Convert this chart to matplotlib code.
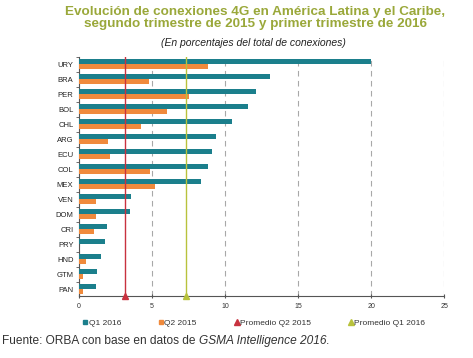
import matplotlib.pyplot as plt
import numpy as np
from matplotlib.lines import Line2D
from matplotlib.offsetbox import TextArea, HPacker, AnchoredOffsetbox

plt.rcParams['font.family'] = ['Liberation Sans', 'DejaVu Sans']

countries = ["URY", "BRA", "PER", "BOL", "CHL", "ARG", "ECU", "COL",
             "MEX", "VEN", "DOM", "CRI", "PRY", "HND", "GTM", "PAN"]
q1_2016 = [20.0, 13.1, 12.1, 11.6, 10.5, 9.4, 9.1, 8.85,
           8.35, 3.55, 3.5, 1.95, 1.75, 1.5, 1.25, 1.15]
q2_2015 = [8.8, 4.8, 7.55, 6.05, 4.25, 2.0, 2.15, 4.85,
           5.2, 1.15, 1.15, 1.05, 0.0, 0.5, 0.25, 0.3]
avg_q2_2015 = 3.15
avg_q1_2016 = 7.35

teal = "#1b7f8c"
orange = "#f08a3c"
red = "#c8323f"
green = "#b8c23c"
title_color = "#9aa83a"

fig = plt.figure(figsize=(4.73, 3.58), dpi=100)
ax = fig.add_axes([0.167, 0.173, 0.772, 0.668])

n = len(countries)
y = np.arange(n)[::-1]
h = 0.33
ax.barh(y + h / 2, q1_2016, height=h, color=teal, zorder=3)
ax.barh(y - h / 2, q2_2015, height=h, color=orange, zorder=3)

ymin, ymax = -0.45, n - 0.5
ax.set_ylim(ymin, ymax)
ax.set_xlim(0, 25)

# average lines with triangle markers at the axis
ax.axvline(avg_q2_2015, color=red, lw=1.0, zorder=4)
ax.axvline(avg_q1_2016, color=green, lw=1.0, zorder=4)
ax.plot([avg_q2_2015], [ymin], marker="^", color=red, ms=4, clip_on=False, zorder=5)
ax.plot([avg_q1_2016], [ymin], marker="^", color=green, ms=4, clip_on=False, zorder=5)

ax.set_xticks([0, 5, 10, 15, 20, 25])
ax.xaxis.grid(True, linestyle=(0, (5, 4)), color="#a8a8a8", lw=0.8, zorder=0)
ax.set_yticks(y)
ax.set_yticklabels(countries)
ax.set_yticks(np.arange(n) + 0.5, minor=True)
ax.tick_params(axis="y", which="major", length=0, labelsize=5.5, pad=4, colors="#222222")
ax.tick_params(axis="y", which="minor", length=2, direction="out", color="#555555")
ax.tick_params(axis="x", length=3, direction="inout", labelsize=5, colors="#333333", color="#555555")

for s in ["top", "right"]:
    ax.spines[s].set_visible(False)
ax.spines["left"].set_color("#555555")
ax.spines["bottom"].set_color("#555555")
ax.spines["left"].set_linewidth(0.8)
ax.spines["bottom"].set_linewidth(0.8)

fig.text(0.54, 0.984, "Evolución de conexiones 4G en América Latina y el Caribe,\n"
         "segundo trimestre de 2015 y primer trimestre de 2016",
         ha="center", va="top", fontsize=9.7, fontweight="bold", color=title_color,
         linespacing=1.05)
fig.text(0.535, 0.88, "(En porcentajes del total de conexiones)", ha="center",
         va="center", fontsize=7.5, style="italic", color="#222222")

handles = [
    Line2D([], [], marker="s", color=teal, ls="", ms=3),
    Line2D([], [], marker="s", color=orange, ls="", ms=3),
    Line2D([], [], marker="^", color=red, ls="", ms=4),
    Line2D([], [], marker="^", color=green, ls="", ms=4),
]
labels = ["Q1 2016", "Q2 2015", "Promedio Q2 2015", "Promedio Q1 2016"]
fig.legend(handles, labels, loc="center", bbox_to_anchor=(0.537, 0.098), ncol=4,
           frameon=False, fontsize=6, handlelength=0.6, handletextpad=0.1,
           columnspacing=4.5, labelcolor="#333333")

# source line, partly italic
src_props = dict(fontsize=8.6, color="#333333")
parts = HPacker(children=[
    TextArea("Fuente: ORBA con base en datos de ", textprops=src_props),
    TextArea("GSMA Intelligence 2016", textprops=dict(style="italic", **src_props)),
    TextArea(".", textprops=src_props),
], align="baseline", pad=0, sep=0)
box = AnchoredOffsetbox(loc="center left", child=parts, pad=0, frameon=False,
                        bbox_to_anchor=(0.004, 0.047), bbox_transform=fig.transFigure,
                        borderpad=0)
fig.add_artist(box)

fig.savefig("out.png", dpi=100)
